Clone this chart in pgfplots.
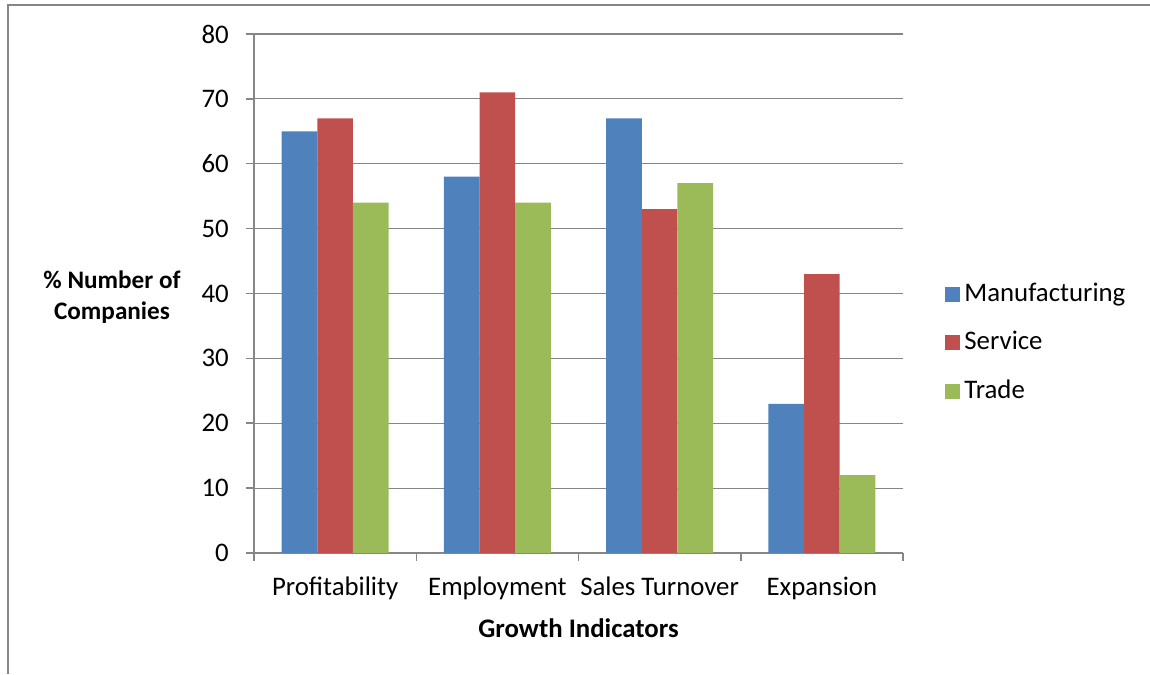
\documentclass[border=0pt]{standalone}
\usepackage{fontspec}
\setmainfont{Carlito}
\usepackage{pgfplots}
\usepackage{pgfplotstable}
\pgfplotsset{compat=1.18}
\definecolor{manu}{HTML}{4F81BD}
\definecolor{serv}{HTML}{C0504D}
\definecolor{trade}{HTML}{9BBB59}
\definecolor{axgray}{HTML}{868686}

% share of companies reporting growth, by sector
\pgfplotstableread{
cat manu serv trade
0 65 67 54
1 58 71 54
2 67 53 57
3 23 43 12
}\growthdata

\begin{document}
\fontsize{13.4}{16}\selectfont
\begin{tikzpicture}
\useasboundingbox (0pt,0pt) rectangle (575pt,337pt);
\draw[axgray, line width=1pt] (4pt,0pt) -- (4pt,334.5pt) -- (575pt,334.5pt);
\begin{axis}[
  at={(127pt,60.5pt)}, anchor=south west,
  scale only axis, width=324.5pt, height=259.5pt,
  font=\fontsize{13.4}{16}\selectfont,
  /pgf/number format/assume math mode=true,
  ybar=0pt, bar width=17.85pt,
  xmin=-0.5, xmax=3.5, ymin=0, ymax=80,
  ytick={0,10,...,80},
  xtick={-0.5,0.5,1.5,2.5,3.5},
  x tick label as interval=true,
  xticklabels={Profitability,Employment,Sales Turnover,Expansion},
  axis x line*=bottom, axis y line*=left,
  axis line style={axgray, line width=0.75pt, -},
  tick style={axgray, line width=0.75pt},
  tick align=outside, major tick length=4pt,
  ymajorgrids, grid style={axgray, line width=0.6pt},
  xticklabel style={yshift=-3.5pt},
  yticklabel style={xshift=-4pt},
  xlabel={\bfseries Growth Indicators},
  xlabel style={at={(axis description cs:0.5,-0.1445)}, anchor=center},
  ylabel={\bfseries \% Number of\\\bfseries Companies},
  ylabel style={at={(axis description cs:-0.2188,0.493)}, anchor=center, rotate=-90, align=center,
    font=\fontsize{12.6}{15.5}\selectfont},
  legend style={draw=none, fill=none, at={(axis description cs:1.0647,0.405)}, anchor=west,
    inner sep=0pt, row sep=9pt, font=\fontsize{13.4}{16}\selectfont},
  legend cell align=left,
  legend image code/.code={\fill[#1] (0pt,-3.75pt) rectangle (7.5pt,3.75pt);},
]
\addplot[fill=manu, draw=none] table[x=cat, y=manu] {\growthdata};
\addplot[fill=serv, draw=none] table[x=cat, y=serv] {\growthdata};
\addplot[fill=trade, draw=none] table[x=cat, y=trade] {\growthdata};
\legend{Manufacturing, Service, Trade}
\end{axis}
\end{tikzpicture}
\end{document}
